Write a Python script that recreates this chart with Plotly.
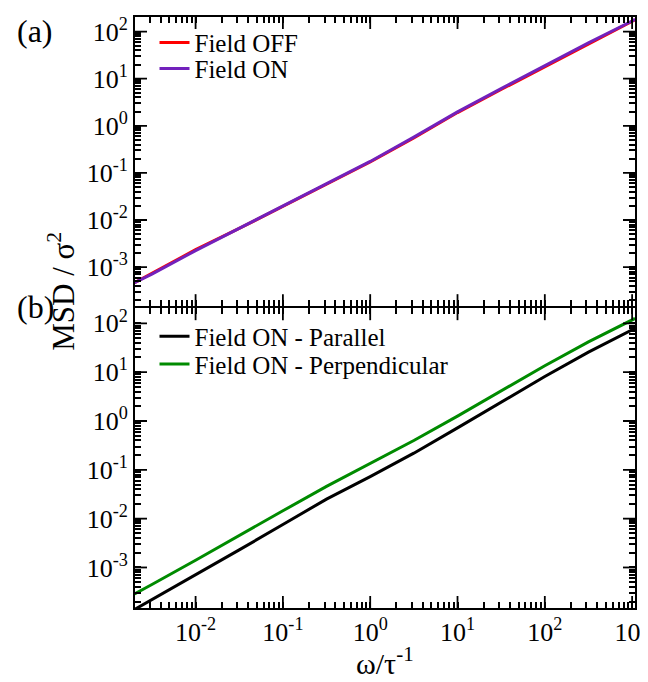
import plotly.graph_objects as go

# ---------------- data ----------------
t = [0.002, 0.00316, 0.01, 0.0316, 0.1, 0.316, 1, 3.16, 10, 31.6, 100, 316, 1000, 1080]

msd_field_off = [4.68e-4, 7.41e-4, 2.34e-3, 6.61e-3, 1.95e-2, 5.75e-2, 0.170, 0.550, 1.91, 5.89, 17.8, 53.7, 162, 178]
msd_field_on = [4.68e-4, 7.08e-4, 2.24e-3, 6.61e-3, 1.97e-2, 5.89e-2, 0.175, 0.575, 1.97, 6.17, 19.0, 57.5, 168, 182]

msd_parallel = [1.38e-4, 2.19e-4, 6.92e-4, 2.29e-3, 7.59e-3, 2.51e-2, 7.24e-2, 0.219, 0.724, 2.45, 8.13, 25.7, 74.1, 79.4]
msd_perpendicular = [2.88e-4, 4.47e-4, 1.41e-3, 4.57e-3, 1.45e-2, 4.57e-2, 0.135, 0.398, 1.26, 4.17, 13.5, 41.7, 117, 126]

x_tick_vals = [1e-2, 1e-1, 1e0, 1e1, 1e2, 1e3]
x_tick_text = ["10<sup>-2</sup>", "10<sup>-1</sup>", "10<sup>0</sup>", "10<sup>1</sup>", "10<sup>2</sup>", "10<sup>3</sup>"]
y_tick_vals = [1e-3, 1e-2, 1e-1, 1e0, 1e1, 1e2]
y_tick_text = ["10<sup>-3</sup>", "10<sup>-2</sup>", "10<sup>-1</sup>", "10<sup>0</sup>", "10<sup>1</sup>", "10<sup>2</sup>"]

XR = [-2.694, 3.033]   # log10 axis ranges
YR = [-3.83, 2.31]

x_minor = [m * 10.0 ** k for k in range(-3, 4) for m in range(2, 10)
           if 10 ** XR[0] < m * 10.0 ** k < 10 ** XR[1]]
y_minor = [m * 10.0 ** k for k in range(-4, 3) for m in range(2, 10)
           if 10 ** YR[0] < m * 10.0 ** k < 10 ** YR[1]]

# all tick positions on each axis: labelled decades + unlabelled minor ticks
x_all_vals = x_tick_vals + x_minor
x_all_text = x_tick_text + [""] * len(x_minor)
y_all_vals = y_tick_vals + y_minor
y_all_text = y_tick_text + [""] * len(y_minor)

FONT = "Liberation Serif, Times New Roman, serif"
RED = "#ff0000"
INDIGO = "#7221bc"
GREEN = "#008b00"
BLACK = "#000000"
LW = 3

fig = go.Figure()

# top panel (a)
fig.add_trace(go.Scatter(x=t, y=msd_field_off, mode="lines", name="Field OFF",
                         line=dict(color=RED, width=LW), xaxis="x2", yaxis="y2", legend="legend"))
fig.add_trace(go.Scatter(x=t, y=msd_field_on, mode="lines", name="Field ON",
                         line=dict(color=INDIGO, width=LW), xaxis="x2", yaxis="y2", legend="legend2"))
# bottom panel (b)
fig.add_trace(go.Scatter(x=t, y=msd_parallel, mode="lines", name="Field ON - Parallel",
                         line=dict(color=BLACK, width=LW), xaxis="x", yaxis="y", legend="legend3"))
fig.add_trace(go.Scatter(x=t, y=msd_perpendicular, mode="lines", name="Field ON - Perpendicular",
                         line=dict(color=GREEN, width=LW), xaxis="x", yaxis="y", legend="legend4"))

DOM_B = [0, 0.5073]
DOM_T = [0.5107, 1]

axis_style = dict(type="log", showgrid=False, zeroline=False,
                  showline=True, linecolor="black", linewidth=2, mirror="ticks",
                  ticks="inside", ticklen=6, tickwidth=1.6, tickcolor="black",
                  tickfont=dict(family=FONT, size=26, color="black"), tickmode="array",
                  ticklabeloverflow="allow")

# longer (12 px) marks at the labelled decades, on all four sides of both panels
MAJOR_LEN = 12
tick_line = dict(color="black", width=1.8)
shapes = []
for xr, yr in [("x", "y"), ("x2", "y2")]:
    for v in x_tick_vals:
        if 10 ** XR[0] < v < 10 ** XR[1]:
            for anchor, length in [(0, MAJOR_LEN), (1, -MAJOR_LEN)]:
                shapes.append(dict(type="line", xref=xr, x0=v, x1=v, yref=yr + " domain",
                                   ysizemode="pixel", yanchor=anchor, y0=0, y1=length,
                                   line=tick_line, layer="above"))
    for v in y_tick_vals:
        for anchor, length in [(0, MAJOR_LEN), (1, -MAJOR_LEN)]:
            shapes.append(dict(type="line", yref=yr, y0=v, y1=v, xref=xr + " domain",
                               xsizemode="pixel", xanchor=anchor, x0=0, x1=length,
                               line=tick_line, layer="above"))


def leg(ypix):
    return dict(x=0.039, y=(600 - ypix) / 594, xanchor="left", yanchor="middle",
                bgcolor="rgba(0,0,0,0)", borderwidth=0, itemwidth=30,
                font=dict(family=FONT, size=25, color="black"))


fig.update_layout(
    width=648, height=682,
    margin=dict(l=127, r=14, t=6, b=82),
    paper_bgcolor="white", plot_bgcolor="white",
    showlegend=True,
    font=dict(family=FONT, size=26, color="black"),
    xaxis=dict(axis_style, range=XR, anchor="y", tickvals=x_all_vals, ticktext=x_all_text),
    yaxis=dict(axis_style, range=YR, domain=DOM_B, anchor="x", tickvals=y_all_vals, ticktext=y_all_text),
    xaxis2=dict(axis_style, range=XR, anchor="y2", tickvals=x_all_vals, ticktext=x_all_text,
                showticklabels=False),
    yaxis2=dict(axis_style, range=YR, domain=DOM_T, anchor="x2", tickvals=y_all_vals, ticktext=y_all_text),
    shapes=shapes,
    legend=leg(32),
    legend2=leg(58),
    legend3=leg(327),
    legend4=leg(355),
    annotations=[
        dict(text="(a)", x=-0.2, y=1.0101, xref="paper", yref="paper", showarrow=False,
             font=dict(family=FONT, size=32, color="black"), xanchor="center", yanchor="top"),
        dict(text="(b)", x=-0.2, y=0.51, xref="paper", yref="paper", showarrow=False,
             font=dict(family=FONT, size=32, color="black"), xanchor="center", yanchor="middle"),
        dict(text="MSD / σ<sup>2</sup>", x=-0.146, y=0.535, xref="paper", yref="paper", showarrow=False,
             textangle=-90, font=dict(family=FONT, size=31, color="black"), xanchor="center", yanchor="middle"),
        dict(text="ω/τ<sup>-1</sup>", x=0.499, y=-0.0905, xref="paper", yref="paper", showarrow=False,
             font=dict(family=FONT, size=30, color="black"), xanchor="center", yanchor="middle"),
    ],
)

fig.write_html("out.html")
